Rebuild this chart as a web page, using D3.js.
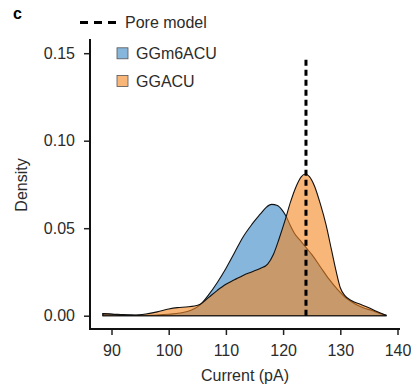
<!DOCTYPE html>
<html>
<head>
<meta charset="utf-8">
<script src="https://cdn.jsdelivr.net/npm/d3@7"></script>
<style>
  body { margin: 0; background: #fff; }
  svg text { font-family: "Liberation Sans", Arial, sans-serif; fill: #2b2b2b; }
</style>
</head>
<body>
<div id="chart"></div>
<script>
// density estimates
const m6aCurrent = [88.5, 90, 92, 94, 96, 98, 100, 102, 104, 105.5, 107, 108.5, 110, 111.5, 113, 114.5, 116, 117, 118, 119, 119.8, 120.5, 121.2, 122, 123, 124, 125, 126.5, 128, 129.5, 131, 132.5, 134, 135.5, 137, 138];
const m6aDensity = [0.0012, 0.0010, 0.0006, 0.0003, 0.0002, 0.0004, 0.0008, 0.0015, 0.0032, 0.0062, 0.012, 0.019, 0.027, 0.036, 0.045, 0.052, 0.058, 0.0618, 0.0636, 0.0630, 0.0605, 0.057, 0.052, 0.047, 0.043, 0.039, 0.035, 0.028, 0.021, 0.015, 0.010, 0.0068, 0.0045, 0.0030, 0.0012, 0.0003];

const ggacuCurrent = [88.5, 90, 92, 94, 96, 98, 100, 101.5, 103, 104.5, 105.5, 107, 108.5, 110, 111.5, 113, 114.5, 116, 117.3, 118.3, 119.3, 120.3, 121.3, 122.3, 123.2, 123.9, 124.6, 125.5, 126.5, 127.5, 128.5, 129.3, 130, 130.8, 132, 133.5, 135, 136.5, 138];
const ggacuDensity = [0.0012, 0.0008, 0.0004, 0.0004, 0.0010, 0.0022, 0.0038, 0.0046, 0.0050, 0.0055, 0.0065, 0.0105, 0.0145, 0.018, 0.0205, 0.023, 0.025, 0.027, 0.0295, 0.035, 0.044, 0.054, 0.065, 0.074, 0.0795, 0.081, 0.0795, 0.074, 0.064, 0.052, 0.037, 0.025, 0.016, 0.0115, 0.0085, 0.0065, 0.0045, 0.0022, 0.0003];

const seriesNames = ["GGm6ACU", "GGACU"];
const seriesColors = ["#3585c5", "#f5851f"];
const xTicks = [90, 100, 110, 120, 130, 140];
const yTicks = [0, 0.05, 0.10, 0.15];
const poreModel = 124;
const poreTop = 0.147;

const width = 411, height = 387;

const svg = d3.select("#chart").append("svg")
  .attr("width", width)
  .attr("height", height);

const x = d3.scaleLinear().domain([90, 140]).range([111.5, 397.5]);
const y = d3.scaleLinear().domain([0, 0.15]).range([315.7, 53.2]);

const series = [
  { name: seriesNames[0], color: seriesColors[0], pts: m6aCurrent.map((c, i) => [c, m6aDensity[i]]) },
  { name: seriesNames[1], color: seriesColors[1], pts: ggacuCurrent.map((c, i) => [c, ggacuDensity[i]]) }
];

const area = d3.area()
  .x(d => x(d[0]))
  .y0(y(0))
  .y1(d => y(d[1]))
  .curve(d3.curveMonotoneX);

svg.selectAll("path.dens")
  .data(series)
  .enter().append("path")
  .attr("class", "dens")
  .attr("d", d => area(d.pts))
  .attr("fill", d => d.color)
  .attr("fill-opacity", 0.6)
  .attr("stroke", "#111")
  .attr("stroke-width", 1.1);

// pore model line
svg.append("line")
  .attr("x1", x(poreModel)).attr("x2", x(poreModel))
  .attr("y1", y(0)).attr("y2", y(poreTop))
  .attr("stroke", "#000")
  .attr("stroke-width", 3)
  .attr("stroke-dasharray", "6,4");

// axes
const yAxis = svg.append("g")
  .attr("transform", "translate(90,0)")
  .call(d3.axisLeft(y).tickValues(yTicks).tickFormat(d3.format(".2f")).tickSize(6).tickPadding(9));
yAxis.select(".domain").remove();
yAxis.selectAll("line").attr("stroke", "#222").attr("stroke-width", 1.5);
yAxis.selectAll("text").style("font-size", "16px");

const xAxis = svg.append("g")
  .attr("transform", "translate(0,329)")
  .call(d3.axisBottom(x).tickValues(xTicks).tickSize(6).tickPadding(10));
xAxis.select(".domain").remove();
xAxis.selectAll("line").attr("stroke", "#222").attr("stroke-width", 1.5);
xAxis.selectAll("text").style("font-size", "16px");

svg.append("path")
  .attr("d", "M90,39V329H400")
  .attr("fill", "none")
  .attr("stroke", "#111")
  .attr("stroke-width", 2);

// labels
svg.append("text")
  .attr("x", 245).attr("y", 380.5)
  .attr("text-anchor", "middle")
  .style("font-size", "16px")
  .text("Current (pA)");

svg.append("text")
  .attr("transform", "translate(27,185) rotate(-90)")
  .attr("text-anchor", "middle")
  .style("font-size", "16px")
  .text("Density");

svg.append("text")
  .attr("x", 13).attr("y", 18.5)
  .style("font-size", "16px")
  .style("font-weight", "bold")
  .style("fill", "#000")
  .text("c");

// legend
svg.append("line")
  .attr("x1", 80).attr("x2", 117)
  .attr("y1", 22.5).attr("y2", 22.5)
  .attr("stroke", "#000")
  .attr("stroke-width", 3)
  .attr("stroke-dasharray", "8,6");
svg.append("text")
  .attr("x", 125).attr("y", 28.3)
  .style("font-size", "16px")
  .text("Pore model");

const leg = svg.selectAll("g.leg")
  .data(series)
  .enter().append("g")
  .attr("class", "leg")
  .attr("transform", (d, i) => `translate(117,${53.3 + i * 27.7})`);
leg.append("rect")
  .attr("x", 0).attr("y", -5.5)
  .attr("width", 11).attr("height", 11)
  .attr("fill", d => d.color)
  .attr("fill-opacity", 0.6)
  .attr("stroke", "#555")
  .attr("stroke-width", 0.8);
leg.append("text")
  .attr("x", 19).attr("y", 5.8)
  .style("font-size", "16px")
  .text(d => d.name);
</script>
</body>
</html>
